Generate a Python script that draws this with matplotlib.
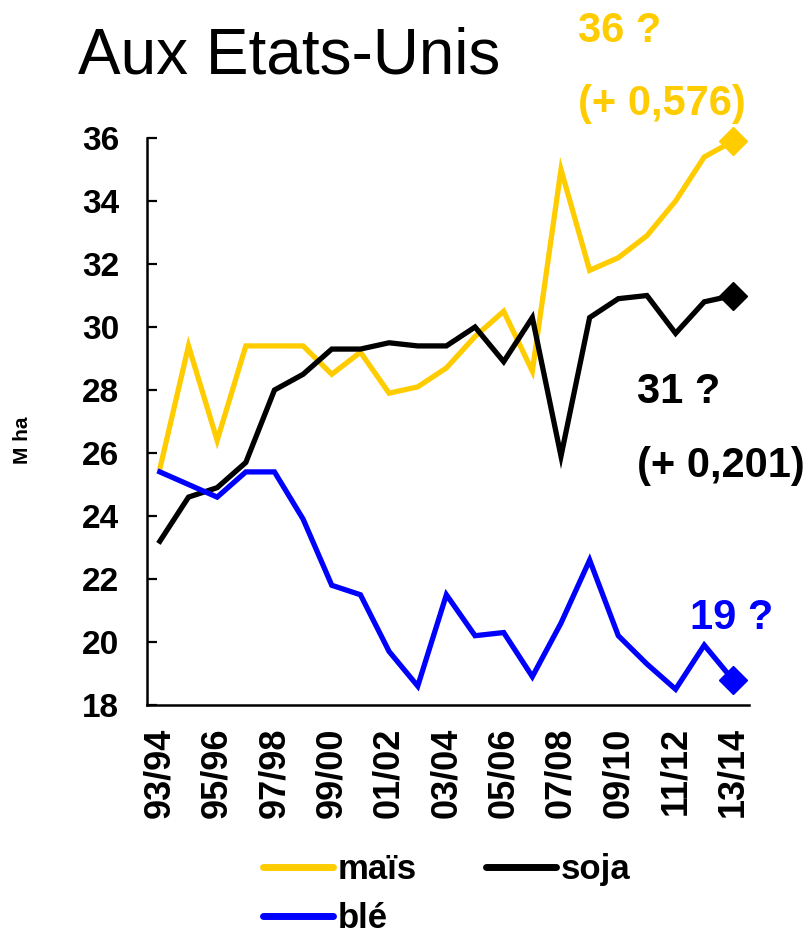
import matplotlib
matplotlib.use("Agg")
import matplotlib.pyplot as plt
from matplotlib.lines import Line2D

plt.rcParams["font.family"] = ["Liberation Sans", "DejaVu Sans"]

seasons = [
    "93/94", "94/95", "95/96", "96/97", "97/98", "98/99", "99/00",
    "00/01", "01/02", "02/03", "03/04", "04/05", "05/06", "06/07",
    "07/08", "08/09", "09/10", "10/11", "11/12", "12/13", "13/14",
]
tick_labels = seasons[::2]

mais = [25.5, 29.4, 26.4, 29.4, 29.4, 29.4, 28.5, 29.2, 27.9, 28.1, 28.7,
        29.7, 30.5, 28.6, 35.0, 31.8, 32.2, 32.9, 34.0, 35.4, 35.9]
soja = [23.2, 24.6, 24.9, 25.7, 28.0, 28.5, 29.3, 29.3, 29.5, 29.4, 29.4,
        30.0, 28.9, 30.3, 25.9, 30.3, 30.9, 31.0, 29.8, 30.8, 31.0]
ble = [25.4, 25.0, 24.6, 25.4, 25.4, 23.9, 21.8, 21.5, 19.7, 18.6, 21.5,
       20.2, 20.3, 18.9, 20.6, 22.6, 20.2, 19.3, 18.5, 19.9, 18.8]

YELLOW = "#FFCC00"
BLUE = "#0000FF"
BLACK = "#000000"

fig = plt.figure(figsize=(8.12, 9.34), dpi=100)
ax = fig.add_axes([0.181, 0.2452, 0.741, 0.607])

x = list(range(len(seasons)))
lw = 3.8
ax.plot(x, mais, color=YELLOW, lw=lw, solid_joinstyle="miter")
ax.plot(x, soja, color=BLACK, lw=lw, solid_joinstyle="miter")
ax.plot(x, ble, color=BLUE, lw=lw, solid_joinstyle="miter")

# diamond on the last (forecast) point
for vals, c in [(mais, YELLOW), (soja, BLACK), (ble, BLUE)]:
    ax.plot(x[-1], vals[-1], marker="D", color=c, markersize=14, clip_on=False)

ax.set_xlim(-0.45, 20.55)
ax.set_ylim(18, 36)
ax.set_yticks(range(18, 37, 2))
ax.set_xticks(x[::2])
ax.set_xticklabels(tick_labels, rotation=90, fontsize=26, fontweight="bold")
for lab in ax.get_yticklabels():
    lab.set_fontsize(24)
    lab.set_fontweight("bold")

for s in ["top", "right"]:
    ax.spines[s].set_visible(False)
for s in ["left", "bottom"]:
    ax.spines[s].set_linewidth(1.8)

ax.tick_params(axis="y", direction="in", length=7, width=1.6, pad=20)
ax.tick_params(axis="x", length=0, pad=16)

fig.text(22 / 812, 1 - 440 / 934, "M ha", rotation=90, fontsize=15,
         fontweight="bold", ha="center", va="center")

fig.text(78 / 812, 1 - 57 / 934, "Aux Etats-Unis", fontsize=46,
         ha="left", va="center")

# forecast annotations
ann = dict(fontsize=30, fontweight="bold", ha="left", va="center")
fig.text(578 / 812, 1 - 31 / 934, "36 ?", color=YELLOW, **ann)
fig.text(578 / 812, 1 - 104 / 934, "(+ 0,576)", color=YELLOW, **ann)
fig.text(637 / 812, 1 - 392 / 934, "31 ?", color=BLACK, **ann)
fig.text(637 / 812, 1 - 466 / 934, "(+ 0,201)", color=BLACK, **ann)
fig.text(690 / 812, 1 - 618 / 934, "19 ?", color=BLUE, **ann)

handles = [
    Line2D([], [], color=YELLOW, lw=5, solid_capstyle="round"),
    Line2D([], [], color=BLUE, lw=5, solid_capstyle="round"),
    Line2D([], [], color=BLACK, lw=5, solid_capstyle="round"),
]
leg = fig.legend(handles, ["maïs", "blé", "soja"], ncol=2,
                 loc="upper left", bbox_to_anchor=(232 / 812, 1 - 822 / 934),
                 frameon=False, handlelength=2.0, handletextpad=0.15,
                 columnspacing=2.0, labelspacing=0.45,
                 prop={"weight": "bold", "size": 25})

fig.savefig("out.png", dpi=100)
